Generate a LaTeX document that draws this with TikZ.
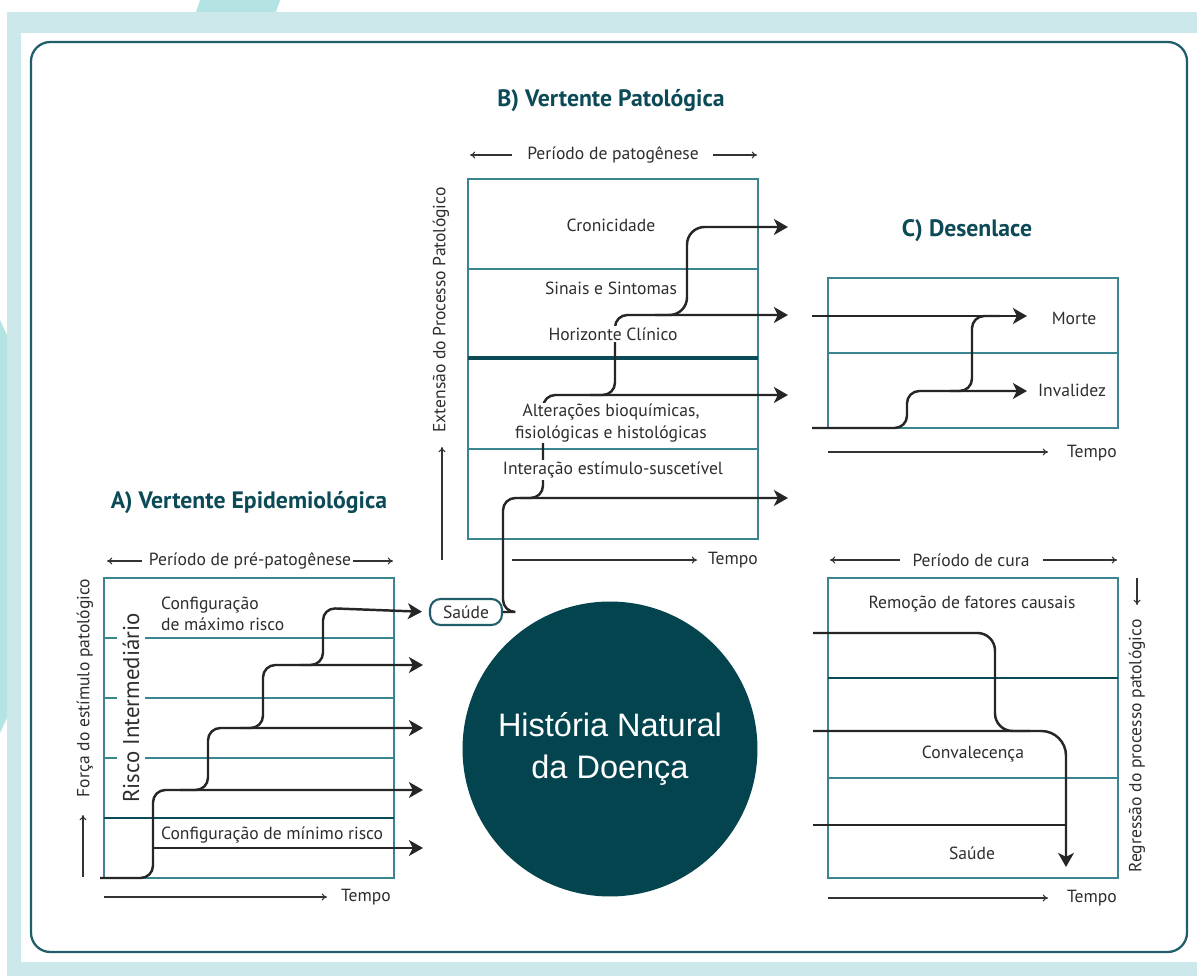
\documentclass[tikz,border=0pt]{standalone}
\usepackage{fontspec}
\setmainfont{PT Sans}
\newfontfamily\circfont{Liberation Sans}
\usetikzlibrary{arrows.meta}

\definecolor{tealbg}{HTML}{CDE8EA}
\definecolor{tealdeco}{HTML}{B4E3E3}
\definecolor{tealline}{HTML}{3A858F}
\definecolor{tealdark}{HTML}{0B4A56}
\definecolor{tealframe}{HTML}{215E6C}
\definecolor{tealcirc}{HTML}{03444F}
\definecolor{txt}{HTML}{2E2E2E}

\tikzset{
  boxline/.style={draw=tealline, line width=0.9pt},
  sepline/.style={draw=tealdark, line width=1.1pt},
  flow/.style={draw=black!85, line width=1.4pt, rounded corners=7pt},
  flowarr/.style={flow, -{Stealth[length=8pt,width=9pt,inset=2.2pt]}},
  axis/.style={draw=black!80, line width=0.6pt, -{To[length=3pt,width=4pt]}},
  lbl/.style={font=\fontsize{10}{12}\selectfont, text=txt, inner sep=1pt},
  mask/.style={lbl, fill=white},
  title/.style={font=\fontsize{13.5}{15}\selectfont\bfseries, text=tealdark},
}

\begin{document}
\begin{tikzpicture}[x=0.02cm, y=-0.02cm]
  % background and frame
  \fill[white] (0,0) rectangle (1197,976);
  \fill[tealdeco] (200,0) -- (280,0) -- (276,12) -- (196,12) -- cycle;
  \fill[tealdeco] (0,320) -- (7,335) -- (7,718) -- (0,733) -- cycle;
  \fill[tealbg] (7,12) rectangle (1197,976);
  \fill[white] (21,33) rectangle (1197,962);
  \draw[tealframe, line width=1.3pt, rounded corners=11pt] (31,42) rectangle (1187,952);
  \useasboundingbox (0,0) rectangle (1197,976);

  \node[title] (titA) at (249,503) {A) Vertente Epidemiológica};
  \node[title] (titB) at (611,101) {B) Vertente Patológica};
  \node[title] (titC) at (967,231) {C) Desenlace};

  \node[circle, fill=tealcirc, minimum size=5.9cm, text=white, align=center,
        font=\circfont\fontsize{18.5}{24}\selectfont] (hnd) at (610,749) {História Natural\\da Doença};

  % A) pre-patogenese
  \draw[boxline] (104,578) rectangle (394,878);
  \foreach \y in {638,698,758}{
    \draw[boxline] (104,\y) -- (117,\y) (145,\y) -- (394,\y);
  }
  \draw[sepline] (104,818) -- (394,818);
  \node[lbl, rotate=90, font=\fontsize{13}{15}\selectfont] (interm) at (131,708) {Risco Intermediário};
  \node[lbl, anchor=west, align=left] (maxrisk) at (159,614) {Configuração\\de máximo risco};
  \node[lbl, anchor=west] (minrisk) at (159,835) {Configuração de mínimo risco};
  \node[lbl] (prepat) at (250,561) {Período de pré-patogênese};
  \draw[axis] (142,561) -- (107,561);
  \draw[axis] (353,561) -- (393,561);
  \node[lbl, rotate=90] (forca) at (85,688) {Força do estímulo patológico};
  \draw[axis] (83,877) -- (83,815);
  \draw[axis] (104,897) -- (327,897);
  \node[lbl] (tempoA) at (366,897) {Tempo};

  \node[lbl, draw=tealframe, line width=1.2pt, rounded corners=6pt, fill=white,
        minimum width=1.44cm, minimum height=0.52cm] (saude) at (466,612) {Saúde};

  \draw[flowarr] (153,848) -- (423,848);
  \foreach \xa/\xb/\ya/\yb in {100/153/878/790, 180/208/790/728, 240/263/728/665}{
    \draw[flowarr] (\xa,\ya) -- (\xb,\ya) -- (\xb,\yb) -- (423,\yb);
  }
  \draw[flowarr, shorten >=4pt] (300,665) -- (323,665) -- (323,608) -- (saude.west);

  % B) patogenese
  \draw[boxline] (468,179) rectangle (758,539);
  \draw[boxline] (468,269) -- (758,269) (468,449) -- (758,449);
  \draw[draw=tealdark, line width=2pt] (468,358) -- (758,358);

  \draw[flowarr] (saude.east) -| (503,498) -- (788,498);
  \draw[flowarr] (520,498) -- (543,498) -- (543,395) -- (788,395);
  \draw[flowarr] (590,395) -- (615,395) -- (615,315) -- (788,315);
  \draw[flowarr, rounded corners=10pt] (655,315) -- (687,315) -- (687,227) -- (788,227);

  \node[mask] (cron) at (611,225) {Cronicidade};
  \node[mask] (sinais) at (611,288) {Sinais e Sintomas};
  \node[mask] (horiz) at (613,334) {Horizonte Clínico};
  \node[mask, align=center] (alter) at (611,423) {Alterações bioquímicas,\\fisiológicas e histológicas};
  \node[mask] (inter) at (613,470) {Interação estímulo-suscetível};

  \node[lbl] (pat) at (613,155) {Período de patogênese};
  \draw[axis] (512,155) -- (470,155);
  \draw[axis] (713,155) -- (757,155);
  \node[lbl, rotate=90] (ext) at (441,310) {Extensão do Processo Patológico};
  \draw[axis] (442,560) -- (442,447);
  \draw[axis] (512,560) -- (697,560);
  \node[lbl] (tempoB) at (733,560) {Tempo};

  % C) desenlace
  \draw[boxline] (828,278) rectangle (1118,428);
  \draw[boxline] (828,353) -- (1118,353);
  \draw[flowarr] (812,316) -- (1027,316);
  \draw[flowarr] (812,428) -- (907,428) -- (907,391) -- (1027,391);
  \draw[flow] (950,391) -- (972,391) -- (972,316) -- (1000,316);
  \node[lbl] (morte) at (1074,318) {Morte};
  \node[lbl] (inval) at (1072,390) {Invalidez};
  \draw[axis] (828,452) -- (1048,452);
  \node[lbl] (tempoC) at (1092,453) {Tempo};

  % cura
  \draw[boxline] (828,578) rectangle (1118,878);
  \draw[sepline] (828,678) -- (1118,678);
  \draw[boxline] (828,778) -- (1118,778);
  \draw[flow, rounded corners=10pt] (813,633) -- (995,633) -- (995,731) -- (1030,731);
  \draw[flowarr, rounded corners=14pt] (813,731) -- (1066,731) -- (1066,867);
  \draw[flow] (813,825) -- (1066,825);
  \node[lbl] (remoc) at (972,604) {Remoção de fatores causais};
  \node[lbl] (conval) at (973,754) {Convalecença};
  \node[lbl] (saudeD) at (972,853) {Saúde};
  \node[lbl] (cura) at (971,560) {Período de cura};
  \draw[axis] (900,560) -- (830,560);
  \draw[axis] (1043,560) -- (1117,560);
  \draw[axis] (828,898) -- (1048,898);
  \node[lbl] (tempoD) at (1092,898) {Tempo};
  \node[lbl, rotate=90] (regr) at (1137,746) {Regressão do processo patológico};
  \draw[axis] (1137,578) -- (1137,605);
\end{tikzpicture}
\end{document}
